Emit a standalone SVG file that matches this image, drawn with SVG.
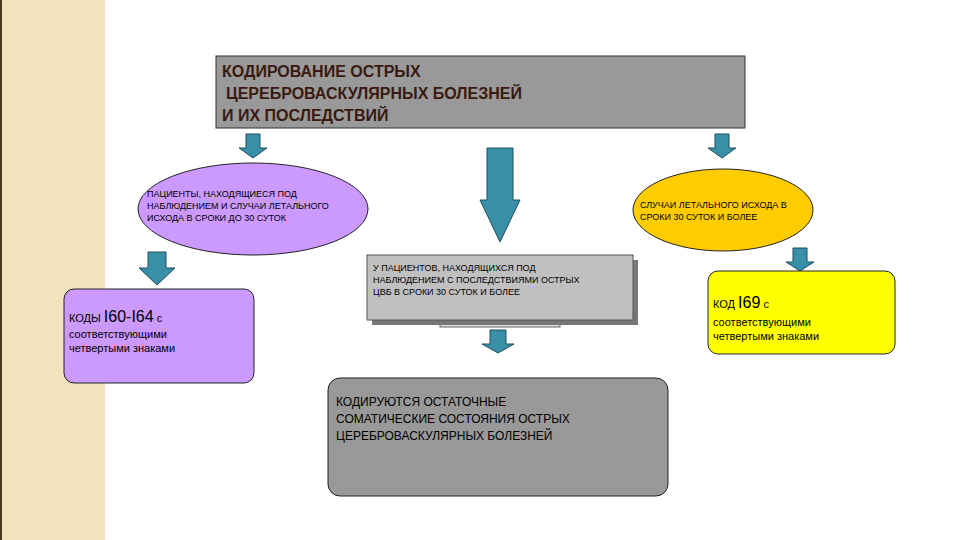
<svg xmlns="http://www.w3.org/2000/svg" width="960" height="540" viewBox="0 0 960 540">
<style>
.t{font-family:"Liberation Sans",Arial,sans-serif;fill:#000}
.s{font-size:9px}
.m{font-size:11px}
.ar{fill:#3a8fa8;stroke:#1f4f5f;stroke-width:1}
</style>
<rect width="960" height="540" fill="#fff"/>
<rect x="0" y="0" width="105" height="540" fill="#f3e4bf"/>
<line x1="1" y1="0" x2="1" y2="540" stroke="#4a3a20" stroke-width="2"/>
<g id="title">
<rect x="216" y="56" width="529" height="72" fill="#999" stroke="#333"/>
<text class="t" font-size="16" font-weight="bold" fill="#3a1a10" style="fill:#3a1a10"><tspan x="222" y="77">КОДИРОВАНИЕ ОСТРЫХ</tspan><tspan x="226" y="99">ЦЕРЕБРОВАСКУЛЯРНЫХ БОЛЕЗНЕЙ</tspan><tspan x="222" y="121">И ИХ ПОСЛЕДСТВИЙ</tspan></text>
</g>
<g id="connectors">
<path class="ar" d="M246 134h14v14h7l-14 10l-14-10h7z"/>
<path class="ar" d="M715 134h14v14h7l-14 10l-14-10h7z"/>
<path class="ar" d="M487 148h26v52h7l-20 42l-20-42h7z"/>
<path class="ar" d="M148 252h18v16h9l-18 17l-18-17h9z"/>
<path class="ar" d="M490 330h16v14h8l-16 9l-16-9h8z"/>
<path class="ar" d="M793 248h14v14h7l-14 9l-14-9h7z"/>
</g>
<g id="left-ellipse">
<ellipse cx="253" cy="209" rx="115" ry="46" fill="#cc99ff" stroke="#222"/>
<text class="t s"><tspan x="147" y="197">ПАЦИЕНТЫ, НАХОДЯЩИЕСЯ ПОД</tspan><tspan x="147" y="209">НАБЛЮДЕНИЕМ И СЛУЧАИ ЛЕТАЛЬНОГО</tspan><tspan x="147" y="221">ИСХОДА В СРОКИ ДО 30 СУТОК</tspan></text>
</g>
<g id="right-ellipse">
<ellipse cx="723" cy="210" rx="90" ry="41" fill="#ffcc00" stroke="#222"/>
<text class="t s"><tspan x="640" y="208">СЛУЧАИ ЛЕТАЛЬНОГО ИСХОДА В</tspan><tspan x="640" y="220">СРОКИ 30 СУТОК И БОЛЕЕ</tspan></text>
</g>
<g id="center-box">
<rect x="440" y="315" width="120" height="12" fill="#ddd" stroke="#666"/>
<rect x="372" y="260" width="266" height="65" fill="#777"/>
<rect x="367" y="255" width="266" height="65" fill="#c0c0c0" stroke="#555"/>
<text class="t s"><tspan x="373" y="271">У ПАЦИЕНТОВ, НАХОДЯЩИХСЯ ПОД</tspan><tspan x="373" y="283">НАБЛЮДЕНИЕМ С ПОСЛЕДСТВИЯМИ ОСТРЫХ</tspan><tspan x="373" y="295">ЦВБ В СРОКИ 30 СУТОК И БОЛЕЕ</tspan></text>
</g>
<g id="left-box">
<rect x="64" y="289" width="190" height="94" rx="10" fill="#cc99ff" stroke="#222"/>
<text class="t"><tspan x="69" y="322" font-size="11">КОДЫ </tspan><tspan font-size="16">I60-I64</tspan><tspan font-size="11"> с</tspan><tspan x="69" y="338" font-size="11">соответствующими</tspan><tspan x="69" y="352" font-size="11">четвертыми знаками</tspan></text>
</g>
<g id="right-box">
<rect x="708" y="271" width="187" height="83" rx="10" fill="#ffff00" stroke="#222"/>
<text class="t"><tspan x="713" y="308" font-size="11">КОД </tspan><tspan font-size="16">I69</tspan><tspan font-size="11"> с</tspan><tspan x="713" y="326" font-size="11">соответствующими</tspan><tspan x="713" y="340" font-size="11">четвертыми знаками</tspan></text>
</g>
<g id="bottom-box">
<rect x="328" y="378" width="340" height="118" rx="12" fill="#999" stroke="#222"/>
<text class="t" font-size="12"><tspan x="336" y="406">КОДИРУЮТСЯ ОСТАТОЧНЫЕ</tspan><tspan x="336" y="423">СОМАТИЧЕСКИЕ СОСТОЯНИЯ  ОСТРЫХ</tspan><tspan x="336" y="440">ЦЕРЕБРОВАСКУЛЯРНЫХ БОЛЕЗНЕЙ</tspan></text>
</g>
</svg>
